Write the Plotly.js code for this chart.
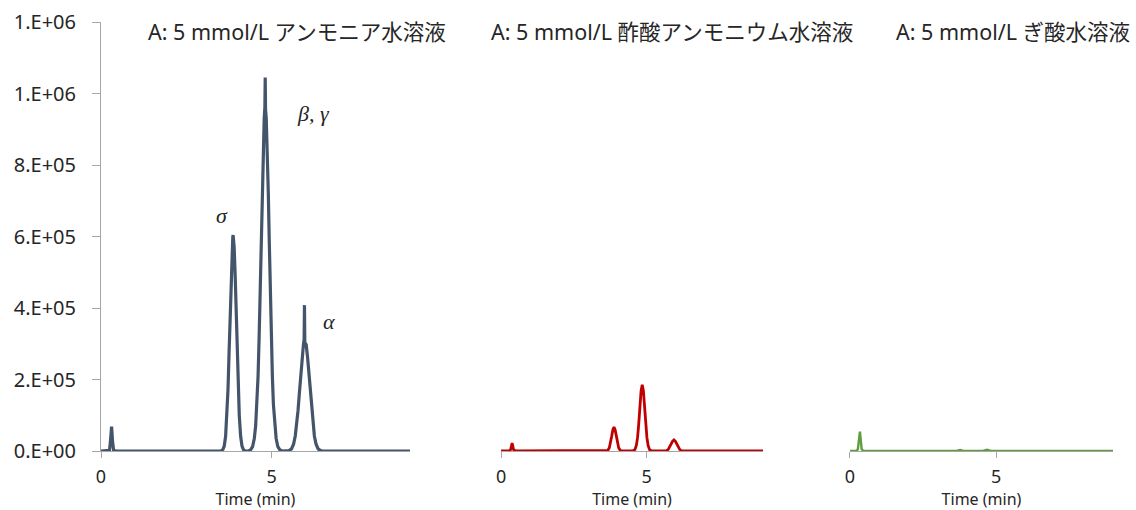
<!DOCTYPE html>
<html>
<head>
<meta charset="utf-8">
<script src="https://cdn.plot.ly/plotly-3.0.1.min.js"></script>
<style>html,body{margin:0;padding:0;background:#fff;}#chart{width:1136px;height:510px;}</style>
</head>
<body>
<div id="chart"></div>
<script>
// Panel titles
const panelTitles = ['A: 5 mmol/L アンモニア水溶液', 'A: 5 mmol/L 酢酸アンモニウム水溶液', 'A: 5 mmol/L ぎ酸水溶液'];
const xTitle = 'Time (min)';
const yTickVals = [0, 200000, 400000, 600000, 800000, 1000000, 1200000];
const yTickText = ['0.E+00', '2.E+05', '4.E+05', '6.E+05', '8.E+05', '1.E+06', '1.E+06'];
const xTickVals = [0, 5];
const xTickText = ['0', '5'];

// Ammonia (blue) chromatogram
const timeAmmonia = [0, 0.20, 0.25, 0.28, 0.31, 0.34, 0.37, 0.45,
  3.51, 3.57, 3.61, 3.65, 3.69, 3.72, 3.75, 3.78, 3.81, 3.84, 3.86, 3.87, 3.88, 3.90, 3.93, 3.96, 3.99, 4.02, 4.05, 4.09, 4.13, 4.17, 4.23,
  4.31, 4.38, 4.44, 4.49, 4.53, 4.57, 4.60, 4.63, 4.66, 4.69, 4.72, 4.75, 4.78, 4.80, 4.81, 4.82, 4.84, 4.87, 4.90, 4.93, 4.96, 4.99, 5.02, 5.05, 5.09, 5.13, 5.18, 5.24, 5.31,
  5.45, 5.51, 5.58, 5.64, 5.69, 5.73, 5.77, 5.81, 5.85, 5.89, 5.93, 5.95, 5.96, 5.97, 5.99, 6.01, 6.05, 6.09, 6.13, 6.17, 6.21, 6.25, 6.30, 6.36, 6.43, 6.49, 9.05];
const signalAmmonia = [0, 0, 2000, 30000, 68000, 25000, 2000, 0,
  0, 4000, 14000, 41000, 100000, 172000, 270000, 383000, 491000, 571000, 598000, 604000, 590000, 571000, 491000, 383000, 270000, 172000, 100000, 41000, 14000, 4000, 0,
  0, 3000, 12000, 35000, 70000, 130000, 208000, 312000, 440000, 582000, 725000, 847000, 930000, 960000, 1045000, 955000, 930000, 847000, 725000, 582000, 440000, 312000, 208000, 130000, 70000, 35000, 12000, 3000, 0,
  0, 1000, 6000, 19000, 42000, 71000, 112000, 161000, 215000, 263000, 298000, 312000, 408000, 305000, 300000, 298000, 263000, 215000, 161000, 112000, 71000, 42000, 19000, 6000, 1000, 0, 0];

// Ammonium acetate (red) chromatogram
const timeAcetate = [0, 0.28, 0.33, 0.36, 0.38, 0.40, 0.43, 0.50,
  3.61, 3.67, 3.72, 3.76, 3.80, 3.84, 3.88, 3.92, 3.96, 4.00, 4.04, 4.09, 4.15,
  4.52, 4.60, 4.65, 4.69, 4.73, 4.77, 4.81, 4.85, 4.89, 4.93, 4.97, 5.01, 5.05, 5.10, 5.18,
  5.61, 5.68, 5.74, 5.79, 5.84, 5.89, 5.94, 5.99, 6.04, 6.09, 6.14, 6.20, 6.27, 9.0];
const signalAcetate = [0, 0, 4000, 16000, 22000, 15000, 4000, 0,
  0, 2000, 9000, 22000, 41000, 59000, 67000, 59000, 41000, 22000, 9000, 2000, 0,
  0, 4000, 16000, 38000, 76000, 125000, 168000, 185000, 168000, 125000, 76000, 38000, 16000, 4000, 0,
  0, 1000, 4000, 10000, 19000, 27000, 31000, 27000, 19000, 10000, 4000, 1000, 0, 0];

// Formic acid (green) chromatogram
const timeFormic = [0, 0.22, 0.27, 0.31, 0.34, 0.37, 0.40, 0.46, 3.65, 3.77, 3.88, 4.55, 4.69, 4.82, 9.0];
const signalFormic = [0, 0, 5000, 35000, 54000, 30000, 5000, 0, 0, 3000, 0, 0, 3500, 0, 0];

// Peak labels (left panel)
const peakLabels = ['σ', 'β, γ', 'α'];
const peakLabelX = [3.54, 6.21, 6.68];
const peakLabelY = [660000, 945000, 361000];

const colors = ['#44546A', '#C00000', '#5F9E3F'];
const axisColor = '#A6A6A6';
const textColor = '#262626';
const sans = 'Noto Sans, Noto Sans CJK JP, sans-serif';

const traces = [
  {x: timeAmmonia, y: signalAmmonia, xaxis: 'x', yaxis: 'y', type: 'scatter', mode: 'lines', line: {color: colors[0], width: 3.2}},
  {x: timeAcetate, y: signalAcetate, xaxis: 'x2', yaxis: 'y', type: 'scatter', mode: 'lines', line: {color: colors[1], width: 2.8}},
  {x: timeFormic, y: signalFormic, xaxis: 'x3', yaxis: 'y', type: 'scatter', mode: 'lines', line: {color: colors[2], width: 2.4}}
];

function xAxis(domain, range) {
  return {
    domain: domain, range: range, anchor: 'y',
    showgrid: false, zeroline: false,
    showline: true, linecolor: axisColor, linewidth: 1,
    ticks: 'outside', ticklen: 6, tickcolor: axisColor,
    tickvals: xTickVals, ticktext: xTickText,
    tickfont: {family: sans, size: 18, color: textColor},
    ticklabelstandoff: 3,
    title: {text: xTitle, font: {family: sans, size: 16, color: textColor}, standoff: 7}
  };
}

const annotations = [];
const titleX = [0.1937, 0.5642, 0.901];
panelTitles.forEach((t, i) => annotations.push({
  text: t, xref: 'paper', yref: 'paper', x: titleX[i], y: 0.979,
  xanchor: 'center', yanchor: 'middle', showarrow: false,
  font: {family: sans, size: 21.5, color: textColor}
}));
peakLabels.forEach((t, i) => annotations.push({
  text: '<i>' + t + '</i>', xref: 'x', yref: 'y', x: peakLabelX[i], y: peakLabelY[i],
  xanchor: 'center', yanchor: 'middle', showarrow: false,
  font: {family: 'Liberation Serif, DejaVu Serif, serif', size: 22, color: textColor}
}));

const layout = {
  width: 1136, height: 510,
  margin: {l: 101, r: 23, t: 22, b: 59},
  paper_bgcolor: '#ffffff', plot_bgcolor: '#ffffff',
  showlegend: false,
  xaxis: xAxis([0, 0.3053], [0, 9.05]),
  xaxis2: xAxis([0.3953, 0.6542], [0, 9.0]),
  xaxis3: xAxis([0.7401, 1.0], [0, 9.0]),
  yaxis: {
    domain: [0, 1], range: [0, 1200000], anchor: 'x',
    showgrid: false, zeroline: false,
    showline: true, linecolor: axisColor, linewidth: 1,
    ticks: 'outside', ticklen: 8, tickcolor: axisColor,
    tickvals: yTickVals, ticktext: yTickText,
    tickfont: {family: sans, size: 20, color: textColor},
    ticklabelstandoff: 12
  },
  annotations: annotations
};

Plotly.newPlot('chart', traces, layout, {displayModeBar: false, staticPlot: true});
</script>
</body>
</html>
